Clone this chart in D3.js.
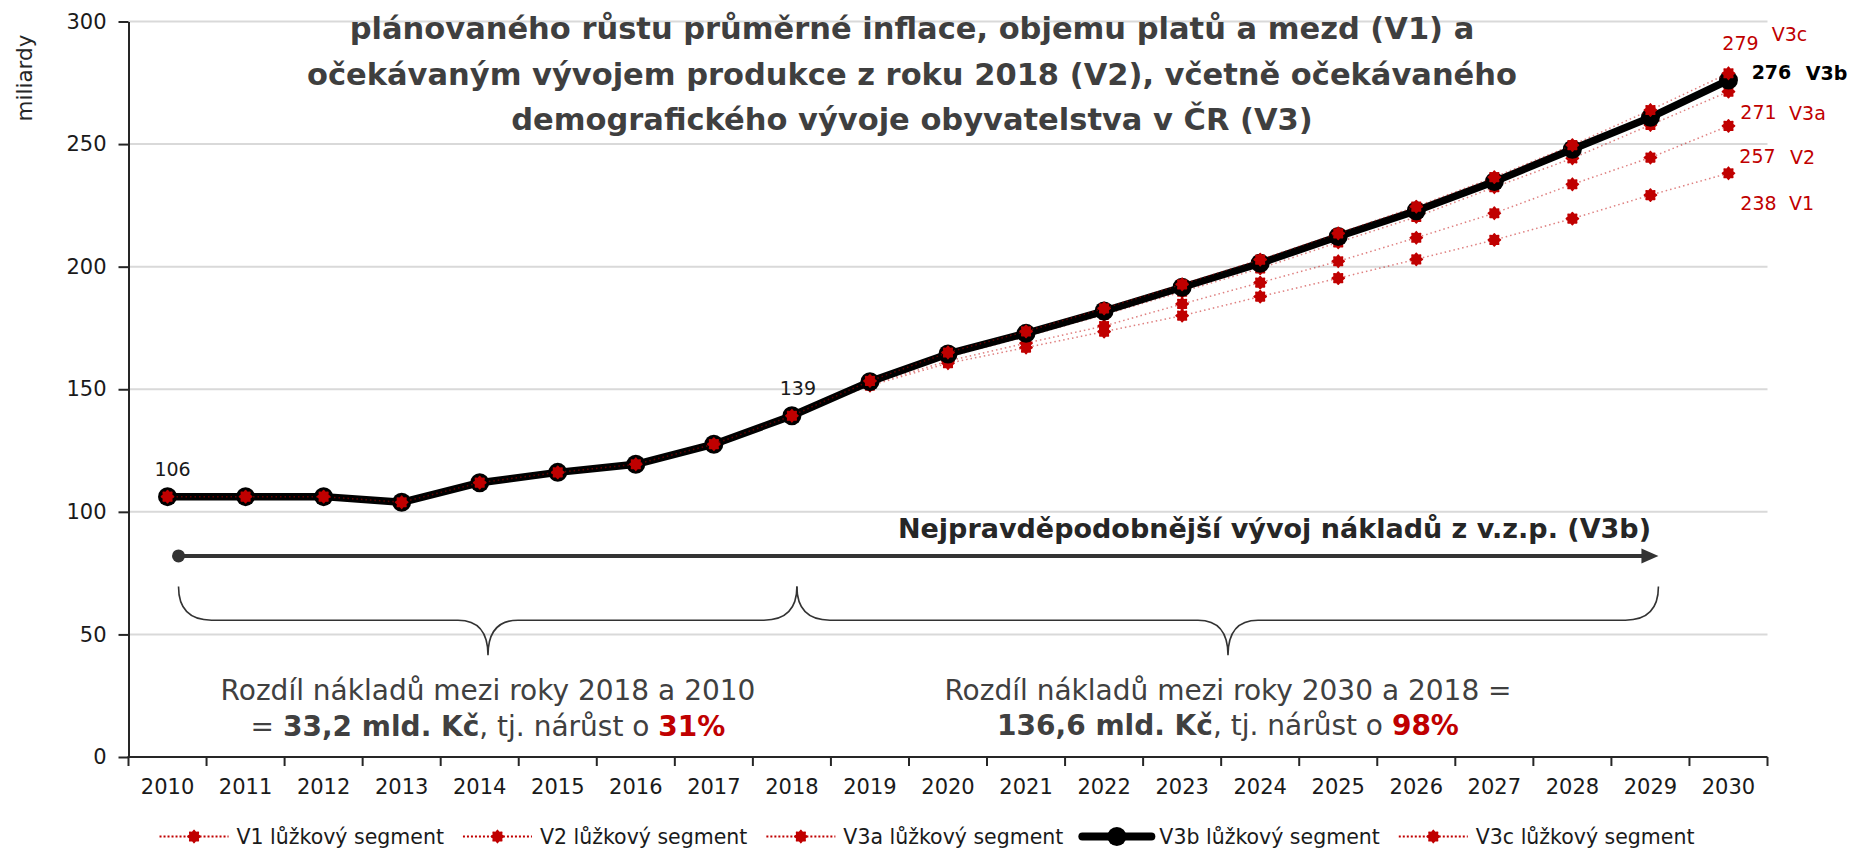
<!DOCTYPE html>
<meta charset="utf-8">
<style>
body {
  margin: 0;
  background: #fff;
  font-family: "DejaVu Sans";
}
.grid line {
  stroke: #d9d9d9;
  stroke-width: 2;
}
.axis path, .axis line {
  stroke: #262626;
  stroke-width: 2;
}
.axis text {
  font-family: "DejaVu Sans";
  font-size: 21px;
  fill: #1a1a1a;
}
.title {
  font-size: 30.5px;
  font-weight: bold;
  fill: #3f3f3f;
}
.note {
  font-size: 28px;
  fill: #404040;
}
.brace {
  fill: none;
  stroke: #333;
  stroke-width: 1.6;
}
.legend text {
  font-size: 20.5px;
  fill: #1a1a1a;
}
</style>
<body>
<script src="https://cdn.jsdelivr.net/npm/d3@7"></script>
<script>

var width = 1851,
    height = 849;

var red = "#c00000";

// categories
var years = [2010, 2011, 2012, 2013, 2014, 2015, 2016, 2017, 2018, 2019, 2020,
             2021, 2022, 2023, 2024, 2025, 2026, 2027, 2028, 2029, 2030];

// values in miliardy Kč (shared past 2010-2018)
var past = [106.2, 106.2, 106.2, 103.9, 111.9, 116.1, 119.4, 127.6, 139.2];

var v1  = past.concat([151.5, 160.6, 167.0, 173.5, 180.0, 187.8, 195.3, 203.0, 210.9, 219.6, 229.2, 238.1]);
var v2  = past.concat([152.0, 161.5, 168.8, 175.8, 184.8, 193.5, 202.2, 211.8, 221.8, 233.6, 244.5, 257.4]);
var v3a = past.concat([152.5, 163.2, 171.5, 180.4, 189.8, 199.3, 209.9, 220.3, 232.4, 244.2, 257.8, 271.4]);
var v3b = past.concat([153.1, 164.4, 172.8, 181.9, 191.6, 201.4, 212.3, 222.8, 234.7, 247.9, 260.9, 276.1]);
var v3c = past.concat([153.4, 165.0, 173.6, 183.0, 192.8, 202.9, 213.6, 224.5, 236.5, 249.6, 263.9, 278.9]);

var seriesNames = ["V1", "V2", "V3a", "V3b", "V3c"];
var yTicks = [0, 50, 100, 150, 200, 250, 300];

var titleLines = [
  "plánovaného růstu průměrné inflace, objemu platů a mezd (V1) a",
  "očekávaným vývojem produkce z roku 2018 (V2), včetně očekávaného",
  "demografického vývoje obyvatelstva v ČR (V3)"
];

var series = [
  {name: "V1",  values: v1},
  {name: "V2",  values: v2},
  {name: "V3a", values: v3a},
  {name: "V3b", values: v3b, main: true},
  {name: "V3c", values: v3c}
];

// end labels: offsets from the 2030 point
var endLabels = [
  {name: "V3c", dx: 12, dy: -30, dx2: 61, dy2: -39},
  {name: "V3b", dx: 43, dy: -8,  dx2: 98, dy2: -7},
  {name: "V3a", dx: 30, dy: 20,  dx2: 79, dy2: 21},
  {name: "V2",  dx: 29, dy: 30,  dx2: 74, dy2: 31},
  {name: "V1",  dx: 30, dy: 30,  dx2: 73, dy2: 30}
];

var x = d3.scaleBand()
    .domain(years)
    .range([128.5, 1767.5]);

var y = d3.scaleLinear()
    .domain([0, 300])
    .range([757, 21.5]);

function cx(year) { return x(year) + x.bandwidth() / 2; }

// bumpy round marker like the spreadsheet "star"
var flower = {
  draw: function(context, size) {
    var R = Math.sqrt(size) / 2, n = 16;
    for (var k = 0; k < n; k++) {
      var a = k * 2 * Math.PI / n,
          r = k % 2 ? R * 0.72 : R;
      if (k === 0) context.moveTo(r * Math.cos(a), r * Math.sin(a));
      else context.lineTo(r * Math.cos(a), r * Math.sin(a));
    }
    context.closePath();
  }
};

var svg = d3.select("body").append("svg")
    .attr("width", width)
    .attr("height", height);

// gridlines
svg.append("g")
    .attr("class", "grid")
  .selectAll("line")
    .data(yTicks.slice(1))
  .enter().append("line")
    .attr("x1", x.range()[0])
    .attr("x2", x.range()[1])
    .attr("y1", function(d) { return y(d); })
    .attr("y2", function(d) { return y(d); });

// title
svg.append("g")
  .selectAll("text")
    .data(titleLines)
  .enter().append("text")
    .attr("class", "title")
    .attr("x", 912)
    .attr("y", function(d, i) { return 39 + i * 45.5; })
    .attr("text-anchor", "middle")
    .text(function(d) { return d; });

// y axis
var yAxis = svg.append("g")
    .attr("class", "axis")
    .attr("transform", "translate(" + x.range()[0] + ",0)")
    .call(d3.axisLeft(y).tickValues(yTicks).tickSize(10).tickSizeOuter(0).tickPadding(12));

svg.append("text")
    .attr("transform", "translate(24,78) rotate(-90)")
    .attr("text-anchor", "middle")
    .attr("dominant-baseline", "central")
    .style("font-size", "21.5px")
    .style("fill", "#262626")
    .text("miliardy");

// x axis
var xAxis = svg.append("g")
    .attr("class", "axis")
    .attr("transform", "translate(0," + y(0) + ")")
    .call(d3.axisBottom(x).tickSize(0).tickPadding(22));
xAxis.select(".domain").remove();

xAxis.append("line")
    .attr("x1", x.range()[0] - 1)
    .attr("x2", x.range()[1])
    .attr("stroke", "#262626")
    .attr("stroke-width", 2.5);

xAxis.selectAll(".bound")
    .data(years.map(function(d) { return x(d); }).concat([x.range()[1]]))
  .enter().append("line")
    .attr("class", "bound")
    .attr("x1", function(d) { return d; })
    .attr("x2", function(d) { return d; })
    .attr("y1", 0)
    .attr("y2", 9);

// arrow
var arrowY = y(82),
    arrowX0 = cx(2010) + 11,
    arrowX1 = cx(2029) + 8;

svg.append("line")
    .attr("x1", arrowX0)
    .attr("x2", arrowX1 - 10)
    .attr("y1", arrowY)
    .attr("y2", arrowY)
    .attr("stroke", "#333")
    .attr("stroke-width", 4);
svg.append("circle")
    .attr("cx", arrowX0)
    .attr("cy", arrowY)
    .attr("r", 6.5)
    .attr("fill", "#333");
svg.append("path")
    .attr("d", "M" + arrowX1 + "," + arrowY + "l-17,-7.5l0,15z")
    .attr("fill", "#333");

svg.append("text")
    .attr("x", 1651)
    .attr("y", arrowY - 18)
    .attr("text-anchor", "end")
    .style("font-size", "27px")
    .style("font-weight", "bold")
    .style("fill", "#262626")
    .text("Nejpravděpodobnější vývoj nákladů z v.z.p. (V3b)");

// braces
function brace(x0, x1, xm, yt, yl, yb) {
  var r = 33, rm = 30;
  return "M" + x0 + "," + yt +
    "Q" + x0 + "," + yl + " " + (x0 + r) + "," + yl +
    "L" + (xm - rm) + "," + yl +
    "Q" + xm + "," + yl + " " + xm + "," + yb +
    "Q" + xm + "," + yl + " " + (xm + rm) + "," + yl +
    "L" + (x1 - r) + "," + yl +
    "Q" + x1 + "," + yl + " " + x1 + "," + yt;
}

var braceTop = y(69.5), braceLine = y(55.8), braceTip = y(41.5);
var leftTip = 488, rightTip = 1228, mid = cx(2018) + 5;

svg.append("path")
    .attr("class", "brace")
    .attr("d", brace(arrowX0, mid, leftTip, braceTop, braceLine, braceTip));
svg.append("path")
    .attr("class", "brace")
    .attr("d", brace(mid, arrowX1, rightTip, braceTop, braceLine, braceTip));

// notes under braces
var n1 = svg.append("text").attr("class", "note").attr("text-anchor", "middle");
n1.append("tspan").attr("x", leftTip).attr("y", 700).text("Rozdíl nákladů mezi roky 2018 a 2010");
var l2 = n1.append("tspan").attr("x", leftTip).attr("y", 736);
l2.append("tspan").text("= ");
l2.append("tspan").style("font-weight", "bold").text("33,2 mld. Kč");
l2.append("tspan").text(", tj. nárůst o ");
l2.append("tspan").style("font-weight", "bold").style("fill", red).text("31%");

var n2 = svg.append("text").attr("class", "note").attr("text-anchor", "middle");
n2.append("tspan").attr("x", rightTip).attr("y", 700).text("Rozdíl nákladů mezi roky 2030 a 2018 =");
var r2 = n2.append("tspan").attr("x", rightTip).attr("y", 735);
r2.append("tspan").style("font-weight", "bold").text("136,6 mld. Kč");
r2.append("tspan").text(", tj. nárůst o ");
r2.append("tspan").style("font-weight", "bold").style("fill", red).text("98%");

// series
var line = d3.line()
    .x(function(d, i) { return cx(years[i]); })
    .y(function(d) { return y(d); });

var marker = d3.symbol().type(flower).size(150);

series.forEach(function(s) {
  var g = svg.append("g");
  if (s.main) {
    g.append("path")
        .attr("d", line(s.values))
        .attr("fill", "none")
        .attr("stroke", "#000")
        .attr("stroke-width", 7.5)
        .attr("stroke-linejoin", "round");
    g.selectAll("circle")
        .data(s.values)
      .enter().append("circle")
        .attr("cx", function(d, i) { return cx(years[i]); })
        .attr("cy", function(d) { return y(d); })
        .attr("r", 9.5)
        .attr("fill", "#000");
  } else {
    g.append("path")
        .attr("d", line(s.values))
        .attr("fill", "none")
        .attr("stroke", red)
        .attr("stroke-opacity", 0.5)
        .attr("stroke-width", 1.5)
        .attr("stroke-dasharray", "1.5,3");
    g.selectAll(".mk")
        .data(s.values)
      .enter().append("path")
        .attr("class", "mk")
        .attr("transform", function(d, i) { return "translate(" + cx(years[i]) + "," + y(d) + ")"; })
        .attr("d", marker)
        .attr("fill", red)
        .attr("stroke", red)
        .attr("stroke-width", 1.5)
        .attr("stroke-linejoin", "round");
  }
});

// data labels
svg.append("text")
    .attr("x", cx(2010) + 5)
    .attr("y", y(v3b[0]) - 21)
    .attr("text-anchor", "middle")
    .style("font-size", "19px")
    .style("fill", "#1a1a1a")
    .text(Math.round(v3b[0]));
svg.append("text")
    .attr("x", cx(2018) + 6)
    .attr("y", y(v3b[8]) - 21)
    .attr("text-anchor", "middle")
    .style("font-size", "19px")
    .style("fill", "#1a1a1a")
    .text(Math.floor(v3b[8]));

var last = years.length - 1;
endLabels.forEach(function(l) {
  var s = series[seriesNames.indexOf(l.name)];
  var v = s.values[last];
  var px = cx(years[last]), py = y(v);
  var col = s.main ? "#000" : red;
  var wt = s.main ? "bold" : "normal";
  svg.append("text")
      .attr("x", px + l.dx)
      .attr("y", py + l.dy)
      .attr("text-anchor", "middle")
      .attr("dominant-baseline", "central")
      .style("font-size", "19px")
      .style("font-weight", wt)
      .style("fill", col)
      .text(Math.round(v));
  svg.append("text")
      .attr("x", px + l.dx2)
      .attr("y", py + l.dy2)
      .attr("text-anchor", "middle")
      .attr("dominant-baseline", "central")
      .style("font-size", "19px")
      .style("font-weight", wt)
      .style("fill", col)
      .text(l.name);
});

// legend
var legend = svg.append("g").attr("class", "legend");
var legY = 836.5, sampleW = 69, gapText = 8, gapItem = 19;
var items = series.map(function(s) {
  var g = legend.append("g");
  var t = g.append("text")
      .attr("x", sampleW + gapText)
      .attr("y", 0)
      .attr("dominant-baseline", "central")
      .text(s.name + " lůžkový segment");
  if (s.main) {
    g.append("line").attr("x1", 0).attr("x2", sampleW).attr("stroke", "#000").attr("stroke-width", 8).attr("stroke-linecap", "round");
    g.append("circle").attr("cx", sampleW / 2).attr("r", 9.5).attr("fill", "#000");
  } else {
    g.append("line").attr("x1", 0).attr("x2", sampleW).attr("stroke", red).attr("stroke-width", 2).attr("stroke-dasharray", "2,2");
    g.append("path").attr("transform", "translate(" + sampleW / 2 + ",0)").attr("d", marker)
        .attr("fill", red).attr("stroke", red).attr("stroke-width", 1.5).attr("stroke-linejoin", "round");
  }
  return {g: g, w: sampleW + gapText + t.node().getComputedTextLength()};
});
var total = d3.sum(items, function(d) { return d.w; }) + gapItem * (items.length - 1);
var lx = 927 - total / 2;
items.forEach(function(it) {
  it.g.attr("transform", "translate(" + lx + "," + legY + ")");
  lx += it.w + gapItem;
});

</script>
